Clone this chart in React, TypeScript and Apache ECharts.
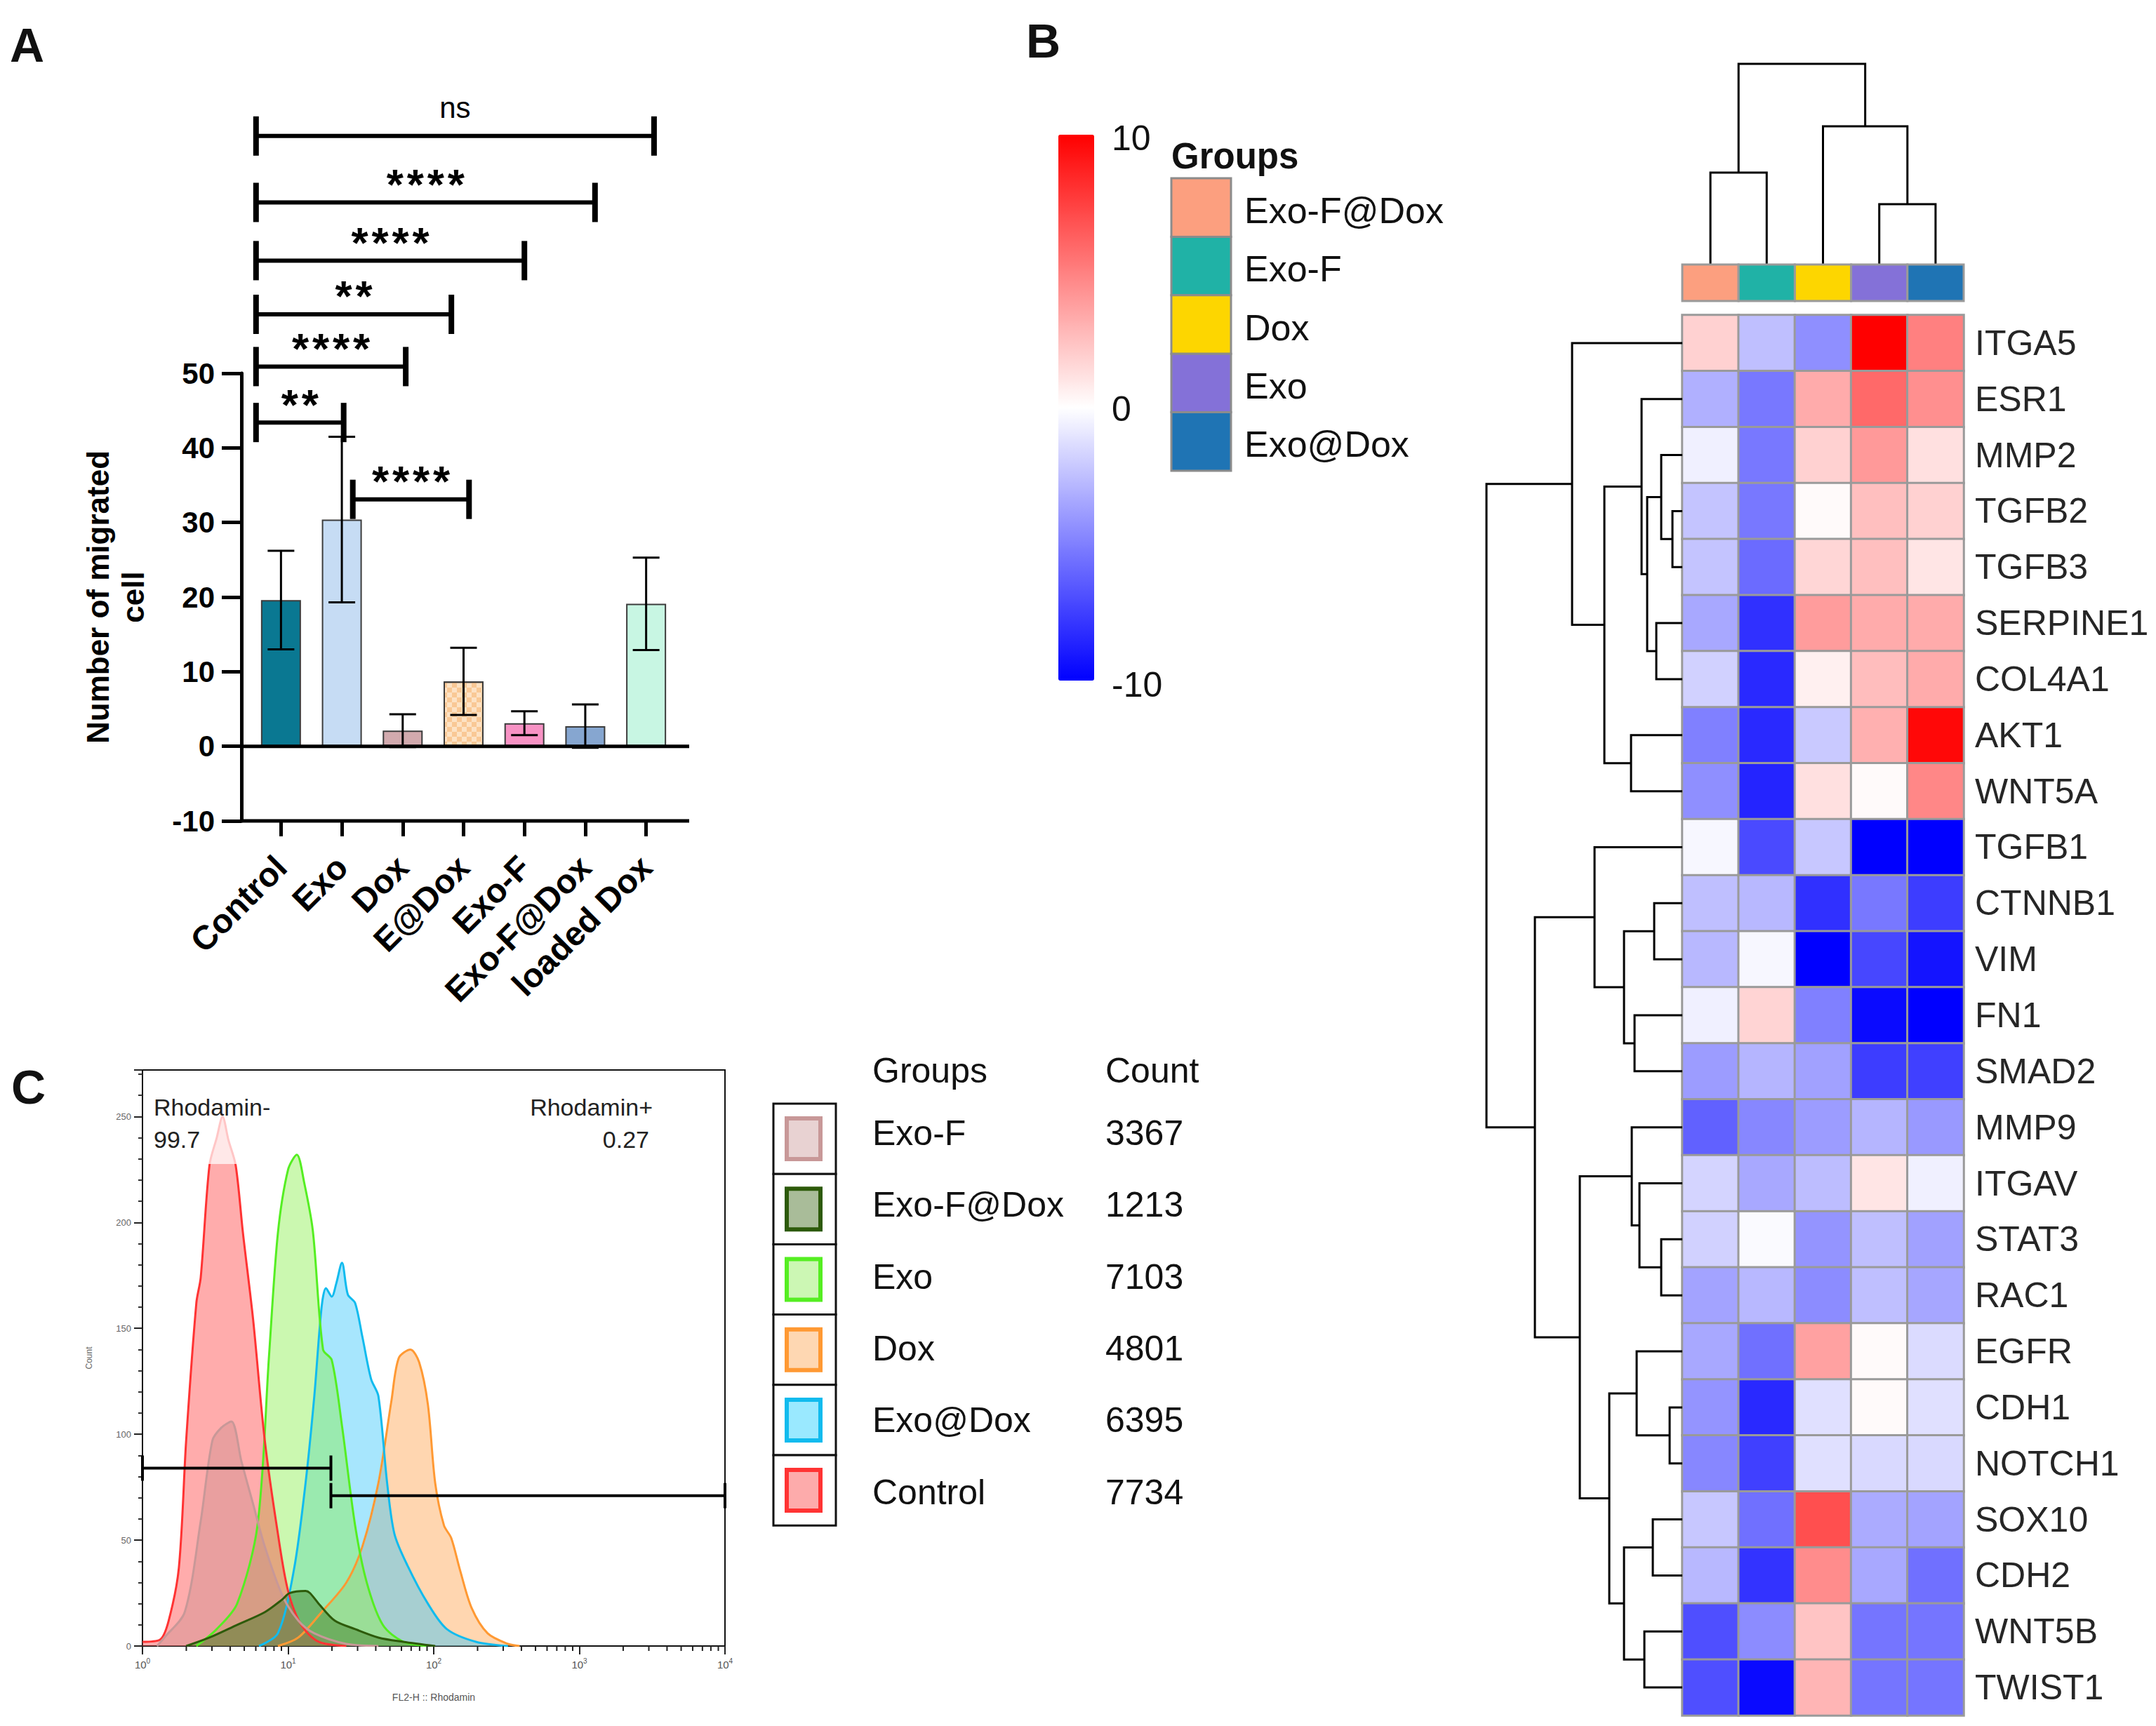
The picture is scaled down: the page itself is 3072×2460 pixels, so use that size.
import React, { useEffect, useRef } from "react";
import * as echarts from "echarts";

const FONT = '"Liberation Sans", Arial, sans-serif';
const NARROW = '"Liberation Sans Narrow", "Liberation Sans", Arial, sans-serif';

// ---------------- Panel A : migration bar chart ----------------
const barCategories = ["Control", "Exo", "Dox", "E@Dox", "Exo-F", "Exo-F@Dox", "loaded Dox"];
const barMeans = [19.6, 30.4, 2.1, 8.7, 3.1, 2.7, 19.1];
const barErrors = [6.6, 11.1, 2.2, 4.5, 1.6, 2.9, 6.2];
const barColors = ["#0a7892", "#c6dcf4", "#d2aaae", "#fde2c4", "#f792c4", "#86a6d0", "#c8f6e3"];
const barAxisMin = -10;
const barAxisMax = 50;
const barAxisStep = 10;
// significance brackets (in category units on a parallel value axis)
const sigStart = [-0.41, -0.41, -0.41, -0.41, -0.41, -0.41, 1.18];
const sigEnd = [6.13, 5.16, 4.0, 2.8, 2.05, 1.03, 3.09];
const sigLevel = [81.8, 72.9, 65.1, 57.9, 50.9, 43.4, 33.1];
const sigLabels = ["ns", "****", "****", "**", "****", "**", "****"];

// ---------------- Panel B : heatmap ----------------
const genes = ["ITGA5", "ESR1", "MMP2", "TGFB2", "TGFB3", "SERPINE1", "COL4A1", "AKT1", "WNT5A", "TGFB1", "CTNNB1", "VIM", "FN1", "SMAD2", "MMP9", "ITGAV", "STAT3", "RAC1", "EGFR", "CDH1", "NOTCH1", "SOX10", "CDH2", "WNT5B", "TWIST1"];
const groups = ["Exo-F@Dox", "Exo-F", "Dox", "Exo", "Exo@Dox"];
const groupColors = ["#fc9f7f", "#20b2a6", "#fdd600", "#8471d8", "#1f74b4"];
const exoFDoxExpr = [1.8, -3.1, -0.6, -2.3, -2.3, -3.4, -1.8, -5.0, -4.4, -0.3, -2.5, -2.8, -0.6, -3.9, -6.2, -1.7, -1.8, -3.6, -3.4, -4.2, -4.7, -2.2, -2.8, -6.9, -6.9];
const exoFExpr = [-2.5, -5.3, -5.3, -5.3, -5.8, -8.1, -8.4, -8.4, -8.6, -7.1, -2.8, -0.3, 1.7, -2.9, -4.7, -3.4, -0.2, -2.8, -5.6, -8.4, -7.5, -5.6, -8.0, -4.5, -9.6];
const doxExpr = [-4.4, 3.3, 1.8, 0.2, 1.6, 3.9, 0.6, -2.1, 1.2, -2.2, -8.1, -10, -5.0, -3.7, -3.9, -2.6, -4.2, -4.5, 3.7, -1.2, -1.2, 6.9, 4.5, 2.3, 2.9];
const exoExpr = [10, 5.9, 4.0, 2.5, 2.5, 3.3, 2.6, 3.1, 0.2, -10, -5.3, -7.2, -9.6, -7.6, -2.9, 1.0, -2.5, -2.5, 0.2, 0.2, -1.5, -3.3, -3.4, -5.4, -5.4];
const exoDoxExpr = [5.0, 4.4, 1.2, 1.8, 1.0, 3.3, 3.3, 9.7, 4.7, -10, -7.6, -9.2, -10, -7.5, -4.0, -0.6, -3.7, -3.5, -1.4, -1.2, -1.5, -3.6, -5.6, -5.4, -5.4];
const heatMin = -10;
const heatMax = 10;
const heatTickLabels = ["10", "0", "-10"];
// row clustering: [childA, childB, height]; leaves 0..24, merge k gets id 25+k
const rowMerges = [
  [3, 4, 14], [2, 25, 30], [5, 6, 37], [26, 27, 50], [1, 28, 58], [7, 8, 73], [29, 30, 111], [0, 31, 157],
  [10, 11, 40], [12, 13, 68], [33, 34, 83], [9, 35, 125],
  [16, 17, 30], [15, 37, 61], [14, 38, 72], [19, 20, 18], [18, 40, 65], [21, 22, 42], [23, 24, 54], [42, 43, 83],
  [41, 44, 104], [39, 45, 146], [36, 46, 210], [32, 47, 279],
];
const rowTreeHeight = 279;
// column clustering: leaves 0..4, merge k gets id 5+k
const colMerges = [[0, 1, 131], [3, 4, 86], [2, 6, 197], [5, 7, 286]];
const colTreeHeight = 286;

// ---------------- Panel C : flow cytometry histogram ----------------
const histControl = [[0, 2], [0.12, 3], [0.18, 12], [0.25, 37], [0.3, 97], [0.37, 162], [0.4, 174], [0.46, 227], [0.51, 240], [0.55, 250], [0.59, 239], [0.64, 227], [0.69, 195], [0.76, 154], [0.84, 97], [0.93, 53], [1.0, 26], [1.09, 10], [1.21, 2], [1.4, 0]];
const histExoF = [[0.1, 0], [0.15, 4], [0.29, 16], [0.4, 59], [0.48, 97], [0.54, 103], [0.61, 106], [0.68, 87], [0.76, 67], [0.84, 47], [0.96, 24], [1.07, 12], [1.18, 6], [1.4, 1], [1.62, 0]];
const histExo = [[0.37, 0], [0.51, 8], [0.65, 20], [0.79, 57], [0.87, 138], [0.93, 195], [1.0, 225], [1.06, 232], [1.11, 219], [1.17, 196], [1.24, 140], [1.3, 135], [1.37, 104], [1.46, 57], [1.54, 30], [1.65, 10], [1.79, 2], [1.96, 0]];
const histExoDox = [[0.8, 0], [0.93, 6], [1.04, 36], [1.12, 77], [1.18, 118], [1.23, 160], [1.26, 169], [1.3, 165], [1.33, 171], [1.37, 181], [1.41, 166], [1.46, 162], [1.51, 146], [1.57, 126], [1.62, 118], [1.68, 77], [1.73, 53], [1.82, 38], [1.96, 20], [2.09, 8], [2.29, 2], [2.51, 0]];
const histDox = [[0.93, 0], [1.07, 4], [1.23, 16], [1.4, 30], [1.51, 47], [1.62, 77], [1.71, 116], [1.76, 136], [1.84, 140], [1.9, 134], [1.96, 114], [2.01, 77], [2.07, 57], [2.12, 51], [2.18, 36], [2.26, 18], [2.37, 6], [2.51, 1], [2.59, 0]];
const histExoFDox = [[0.3, 0], [0.46, 4], [0.65, 10], [0.84, 16], [0.96, 22], [1.01, 25], [1.12, 26], [1.15, 25], [1.21, 20], [1.32, 12], [1.46, 8], [1.62, 4], [1.79, 2], [2.01, 0]];
const histLegendGroups = ["Exo-F", "Exo-F@Dox", "Exo", "Dox", "Exo@Dox", "Control"];
const histCounts = ["3367", "1213", "7103", "4801", "6395", "7734"];
const histLineColors = ["#c89898", "#2d5a0a", "#55ee22", "#ff9933", "#11bbee", "#ff3333"];
const histFillColors = ["#e8d2d2", "#a9bc99", "#ccf7b4", "#fed7b2", "#9ae9ff", "#fdabab"];
const histAreaColors = ["rgba(200,140,140,0.40)", "rgba(60,120,30,0.45)", "rgba(140,240,80,0.45)", "rgba(255,165,80,0.45)", "rgba(60,200,250,0.45)", "rgba(255,70,70,0.45)"];
const gateStart = [0, 1.294];
const gateEnd = [1.294, 4.0];
const gateLevel = [84, 71];
const gateNames = ["Rhodamin-", "Rhodamin+"];
const gatePercents = ["99.7", "0.27"];
const histXTicks = [0, 1, 2, 3, 4];
const histYMax = 272;
const logMinorMultipliers = [2, 3, 4, 5, 6, 7, 8, 9];

// ---------------- layout ----------------
const barGrid = { left: 357, top: 532, width: 607, height: 638 };
const heatGrid = { left: 2397, top: 449, width: 401, height: 1996 };
const colDenGrid = { left: 2397, top: 91, width: 401, height: 286 };
const rowDenGrid = { left: 2118, top: 449, width: 279, height: 1996 };
const annoGrid = { left: 2397, top: 377, width: 401, height: 52 };
const histGrid = { left: 203, top: 1525, width: 830, height: 821 };

function buildDendro(merges: number[][], nLeaves: number) {
  const pos: number[] = [];
  const hgt: number[] = [];
  for (let i = 0; i < nLeaves; i++) { pos[i] = i; hgt[i] = 0; }
  const out: number[][] = [];
  merges.forEach((m, k) => {
    const [a, b, h] = m;
    out.push([pos[a], hgt[a], pos[b], hgt[b], h]);
    pos[nLeaves + k] = (pos[a] + pos[b]) / 2;
    hgt[nLeaves + k] = h;
  });
  return out;
}

function buildOption() {
  const exprCols = [exoFDoxExpr, exoFExpr, doxExpr, exoExpr, exoDoxExpr];
  const heatData: number[][] = [];
  exprCols.forEach((col, c) => col.forEach((v, r) => heatData.push([c, r, v])));

  const rowDen = buildDendro(rowMerges, genes.length);
  const colDen = buildDendro(colMerges, groups.length);

  const histSets = [histExoF, histExoFDox, histExo, histDox, histExoDox, histControl];
  const drawOrder = [3, 4, 2, 5, 0, 1]; // Dox, Exo@Dox, Exo, Control, Exo-F, Exo-F@Dox

  const minorTicks: number[][] = [];
  for (let d = 0; d < histXTicks.length - 1; d++) {
    logMinorMultipliers.forEach((m) => minorTicks.push([d + Math.log10(m), 0]));
  }

  const yOf = (v: number) => barGrid.top + (barGrid.height * (barAxisMax - v)) / (barAxisMax - barAxisMin);
  const axisX = barGrid.left - 13;
  const lineRight = 982;

  const graphic: any[] = [];
  const txt = (x: number, y: number, text: string, o: any = {}) =>
    graphic.push({
      type: "text", x, y, z: o.z ?? 60,
      style: {
        text, fill: o.fill ?? "#111", fontSize: o.size ?? 50, fontWeight: o.weight ?? "normal",
        fontFamily: o.family ?? FONT, align: o.align ?? "left", verticalAlign: o.va ?? "middle",
      },
    });

  // panel letters
  txt(14, 64, "A", { size: 68, weight: "bold" });
  txt(1462, 58, "B", { size: 68, weight: "bold" });
  txt(16, 1549, "C", { size: 68, weight: "bold" });

  // panel A horizontal lines at 0 and -10
  [0, barAxisMin].forEach((v) =>
    graphic.push({ type: "line", z: 20, shape: { x1: axisX, y1: yOf(v), x2: lineRight, y2: yOf(v) }, style: { stroke: "#000", lineWidth: 5 } })
  );

  // panel B colour bar labels
  const cbTop = 192, cbBottom = 970;
  heatTickLabels.forEach((t, i) => {
    const y = cbTop + ((cbBottom - cbTop) * i) / (heatTickLabels.length - 1);
    txt(1584, y + (i === 0 ? 5 : i === 2 ? 6 : 2), t, { size: 50, family: NARROW });
  });
  // panel B group legend
  txt(1669, 222, "Groups", { size: 51, weight: "bold" });
  const swH = 83.4;
  groups.forEach((g, i) => {
    graphic.push({ type: "rect", z: 10, shape: { x: 1669, y: 254 + i * swH, width: 85, height: swH }, style: { fill: groupColors[i], stroke: "#8c8c8c", lineWidth: 3 } });
    txt(1773, 254 + i * swH + swH / 2 + 4, g, { size: 52 });
  });

  // panel C gate labels + label background
  graphic.push({ type: "rect", z: 50, shape: { x: 206, y: 1556, width: 184, height: 103 }, style: { fill: "rgba(255,255,255,0.72)" } });
  txt(219, 1578, gateNames[0], { size: 34, fill: "#222" });
  txt(219, 1624, gatePercents[0], { size: 34, fill: "#222" });
  txt(930, 1578, gateNames[1], { size: 34, fill: "#222", align: "right" });
  txt(925, 1624, gatePercents[1], { size: 34, fill: "#222", align: "right" });

  // panel C legend
  txt(1243, 1526, "Groups", { size: 50 });
  txt(1575, 1526, "Count", { size: 50 });
  const rowH = 100.2;
  histLegendGroups.forEach((g, i) => {
    const y0 = 1573 + i * rowH;
    const cy = y0 + rowH / 2;
    const ty = 1615 + i * 102.3;
    graphic.push({ type: "rect", z: 10, shape: { x: 1102, y: y0, width: 89, height: rowH }, style: { fill: "#fff", stroke: "#111", lineWidth: 3 } });
    graphic.push({ type: "rect", z: 11, shape: { x: 1121, y: cy - 29, width: 48, height: 58 }, style: { fill: histFillColors[i], stroke: histLineColors[i], lineWidth: 6 } });
    txt(1243, ty, g, { size: 50 });
    txt(1575, ty, histCounts[i], { size: 50 });
  });

  const series: any[] = [];

  // 0: bars
  series.push({
    type: "bar", xAxisIndex: 0, yAxisIndex: 0, barWidth: 57, z: 2,
    data: barMeans.map((v, i) => ({
      value: v,
      itemStyle: {
        color: barColors[i], borderColor: "#3c3c3c", borderWidth: 2,
        ...(barCategories[i] === "E@Dox"
          ? { decal: { symbol: "rect", symbolSize: 1, color: "rgba(246,178,110,0.55)", dashArrayX: [[7, 7], [0, 7, 7, 0]], dashArrayY: [7, 0] } }
          : {}),
      },
    })),
  });
  // 1: error bars
  series.push({
    type: "custom", xAxisIndex: 0, yAxisIndex: 0, z: 5,
    data: barMeans.map((m, i) => [i, m, barErrors[i]]),
    renderItem: (params: any, api: any) => {
      const i = api.value(0), m = api.value(1), e = api.value(2);
      const t = api.coord([i, m + e]);
      const b = api.coord([i, m - e]);
      const s = { stroke: "#000", lineWidth: 3 };
      return {
        type: "group",
        children: [
          { type: "line", shape: { x1: t[0], y1: t[1], x2: b[0], y2: b[1] }, style: s },
          { type: "line", shape: { x1: t[0] - 19, y1: t[1], x2: t[0] + 19, y2: t[1] }, style: s },
          { type: "line", shape: { x1: b[0] - 19, y1: b[1], x2: b[0] + 19, y2: b[1] }, style: s },
        ],
      };
    },
  });
  // 2: significance brackets
  series.push({
    type: "custom", xAxisIndex: 1, yAxisIndex: 0, z: 6, clip: false,
    data: sigStart.map((s, i) => [s, sigEnd[i], sigLevel[i]]),
    renderItem: (params: any, api: any) => {
      const a = api.coord([api.value(0), api.value(2)]);
      const b = api.coord([api.value(1), api.value(2)]);
      const lab = sigLabels[params.dataIndex];
      const ns = lab === "ns";
      const st = { stroke: "#000", lineWidth: 6 };
      const cap = { stroke: "#000", lineWidth: 8 };
      const children: any[] = [
        { type: "line", shape: { x1: a[0], y1: a[1], x2: b[0], y2: b[1] }, style: st },
        { type: "line", shape: { x1: a[0], y1: a[1] - 28, x2: a[0], y2: a[1] + 28 }, style: cap },
        { type: "line", shape: { x1: b[0], y1: b[1] - 28, x2: b[0], y2: b[1] + 28 }, style: cap },
      ];
      const mid = (a[0] + b[0]) / 2;
      if (ns) {
        children.push({
          type: "text", x: mid, y: a[1] - 40,
          style: { text: lab, fill: "#000", fontSize: 42, fontFamily: FONT, align: "center", verticalAlign: "middle" },
        });
      } else {
        const n = lab.length;
        const gap = 29;
        for (let k = 0; k < n; k++) {
          children.push({
            type: "text", x: mid + (k - (n - 1) / 2) * gap, y: a[1] - 26,
            style: { text: "*", fill: "#000", fontSize: 62, fontWeight: "bold", fontFamily: FONT, align: "center", verticalAlign: "middle" },
          });
        }
      }
      return { type: "group", children };
    },
  });
  // 3: heatmap
  series.push({
    type: "heatmap", xAxisIndex: 2, yAxisIndex: 1, data: heatData,
    itemStyle: { borderColor: "#9a9a9a", borderWidth: 3 },
    emphasis: { disabled: true },
  });
  // 4: column dendrogram
  series.push({
    type: "custom", xAxisIndex: 3, yAxisIndex: 2, clip: false, data: colDen,
    renderItem: (params: any, api: any) => {
      const pa = api.value(0), ha = api.value(1), pb = api.value(2), hb = api.value(3), h = api.value(4);
      return {
        type: "polyline",
        shape: { points: [api.coord([pa, ha]), api.coord([pa, h]), api.coord([pb, h]), api.coord([pb, hb])] },
        style: { stroke: "#000", lineWidth: 3, fill: "none" },
      };
    },
  });
  // 5: row dendrogram
  series.push({
    type: "custom", xAxisIndex: 4, yAxisIndex: 3, clip: false, data: rowDen,
    renderItem: (params: any, api: any) => {
      const pa = api.value(0), ha = api.value(1), pb = api.value(2), hb = api.value(3), h = api.value(4);
      return {
        type: "polyline",
        shape: { points: [api.coord([ha, pa]), api.coord([h, pa]), api.coord([h, pb]), api.coord([hb, pb])] },
        style: { stroke: "#000", lineWidth: 3, fill: "none" },
      };
    },
  });
  // 6: group annotation bar
  series.push({
    type: "custom", xAxisIndex: 5, yAxisIndex: 4, data: groups.map((g, i) => [i, 0.5]),
    renderItem: (params: any, api: any) => {
      const i = api.value(0);
      const a = api.coord([i - 0.5, 1]);
      const b = api.coord([i + 0.5, 0]);
      return { type: "rect", shape: { x: a[0], y: a[1], width: b[0] - a[0], height: b[1] - a[1] }, style: { fill: groupColors[i], stroke: "#9a9a9a", lineWidth: 3 } };
    },
  });
  // 7..12: histograms
  drawOrder.forEach((k) => {
    series.push({
      type: "line", name: histLegendGroups[k], xAxisIndex: 6, yAxisIndex: 5, data: histSets[k],
      showSymbol: false, symbol: "none", smooth: 0.3, z: 3,
      lineStyle: { color: histLineColors[k], width: 3 },
      areaStyle: { color: histAreaColors[k], opacity: 1 },
    });
  });
  // gates
  series.push({
    type: "custom", xAxisIndex: 6, yAxisIndex: 5, z: 8, clip: false,
    data: gateStart.map((s, i) => [s, gateEnd[i], gateLevel[i]]),
    renderItem: (params: any, api: any) => {
      const a = api.coord([api.value(0), api.value(2)]);
      const b = api.coord([api.value(1), api.value(2)]);
      const s = { stroke: "#000", lineWidth: 4 };
      return {
        type: "group",
        children: [
          { type: "line", shape: { x1: a[0], y1: a[1], x2: b[0], y2: b[1] }, style: s },
          { type: "line", shape: { x1: a[0], y1: a[1] - 18, x2: a[0], y2: a[1] + 18 }, style: s },
          { type: "line", shape: { x1: b[0], y1: b[1] - 18, x2: b[0], y2: b[1] + 18 }, style: s },
        ],
      };
    },
  });
  // log minor ticks
  series.push({
    type: "custom", xAxisIndex: 6, yAxisIndex: 5, z: 8, clip: false, data: minorTicks,
    renderItem: (params: any, api: any) => {
      const p = api.coord([api.value(0), 0]);
      return { type: "line", shape: { x1: p[0], y1: p[1], x2: p[0], y2: p[1] + 7 }, style: { stroke: "#222", lineWidth: 2 } };
    },
  });

  const hidden = { show: false };
  return {
    animation: false,
    backgroundColor: "#fff",
    textStyle: { fontFamily: FONT },
    grid: [
      { ...barGrid, outerBoundsMode: "none" },
      { ...heatGrid, outerBoundsMode: "none" },
      { ...colDenGrid, outerBoundsMode: "none" },
      { ...rowDenGrid, outerBoundsMode: "none" },
      { ...annoGrid, outerBoundsMode: "none" },
      { ...histGrid, outerBoundsMode: "none", show: true, borderColor: "#111", borderWidth: 2 },
    ],
    xAxis: [
      {
        type: "category", gridIndex: 0, data: barCategories,
        axisLine: { show: false, onZero: false },
        axisTick: { show: true, alignWithLabel: true, length: 22, lineStyle: { color: "#000", width: 5 } },
        axisLabel: { rotate: 45, interval: 0, fontSize: 48, fontWeight: "bold", color: "#000", fontFamily: FONT, margin: 58 },
      },
      { type: "value", gridIndex: 0, min: -0.5, max: barCategories.length - 0.5, ...hidden },
      { type: "category", gridIndex: 1, data: groups, ...hidden },
      { type: "value", gridIndex: 2, min: -0.5, max: groups.length - 0.5, ...hidden },
      { type: "value", gridIndex: 3, min: 0, max: rowTreeHeight, inverse: true, ...hidden },
      { type: "value", gridIndex: 4, min: -0.5, max: groups.length - 0.5, ...hidden },
      {
        type: "value", gridIndex: 5, min: histXTicks[0], max: histXTicks[histXTicks.length - 1], interval: 1,
        splitLine: { show: false },
        axisLine: { onZero: false, lineStyle: { color: "#111", width: 2 } },
        axisTick: { length: 12, lineStyle: { color: "#222", width: 2 } },
        axisLabel: {
          margin: 16, color: "#555",
          formatter: (v: number) => "{b|10}{e|" + v + "}",
          rich: { b: { fontSize: 15, color: "#555", fontFamily: FONT }, e: { fontSize: 10, color: "#555", padding: [0, 0, 10, 0], fontFamily: FONT } },
        },
        name: "FL2-H :: Rhodamin", nameLocation: "middle", nameGap: 66,
        nameTextStyle: { fontSize: 14, color: "#555", fontFamily: FONT },
      },
    ],
    yAxis: [
      {
        type: "value", gridIndex: 0, min: barAxisMin, max: barAxisMax, interval: barAxisStep, offset: 13,
        splitLine: { show: false },
        axisLine: { show: true, onZero: false, lineStyle: { color: "#000", width: 5 } },
        axisTick: { show: true, length: 28, lineStyle: { color: "#000", width: 5 } },
        axisLabel: { fontSize: 42, fontWeight: "bold", color: "#000", margin: 38, fontFamily: FONT },
        name: "Number of migrated\ncell", nameLocation: "middle", nameRotate: 90, nameGap: 130,
        nameTextStyle: { fontSize: 44, fontWeight: "bold", color: "#000", lineHeight: 50, fontFamily: FONT },
      },
      {
        type: "category", gridIndex: 1, data: genes, inverse: true, position: "right",
        axisLine: { show: false }, axisTick: { show: false },
        axisLabel: { fontSize: 50, color: "#262626", margin: 16, fontFamily: FONT },
      },
      { type: "value", gridIndex: 2, min: 0, max: colTreeHeight, ...hidden },
      { type: "value", gridIndex: 3, min: -0.5, max: genes.length - 0.5, inverse: true, ...hidden },
      { type: "value", gridIndex: 4, min: 0, max: 1, ...hidden },
      {
        type: "value", gridIndex: 5, min: 0, max: histYMax, interval: 50,
        splitLine: { show: false },
        axisLine: { onZero: false, lineStyle: { color: "#111", width: 2 } },
        axisTick: { length: 12, lineStyle: { color: "#222", width: 2 } },
        minorTick: { show: true, splitNumber: 5, length: 6, lineStyle: { color: "#333", width: 2 } },
        axisLabel: { fontSize: 13, color: "#666", margin: 16, showMaxLabel: false, fontFamily: FONT },
        name: "Count", nameLocation: "middle", nameRotate: 90, nameGap: 70,
        nameTextStyle: { fontSize: 12, color: "#666", fontFamily: FONT },
      },
    ],
    visualMap: {
      type: "continuous", min: heatMin, max: heatMax, seriesIndex: 3, calculable: false, hoverLink: false,
      orient: "vertical", left: 1508, top: cbTop, itemWidth: 51, itemHeight: cbBottom - cbTop, padding: 0,
      inRange: { color: ["#0000ff", "#ffffff", "#ff0000"] },
    },
    graphic: { elements: graphic },
    series,
  };
}

export default function App() {
  const ref = useRef<HTMLDivElement>(null);
  useEffect(() => {
    if (!ref.current) return;
    const chart = echarts.init(ref.current, null, { renderer: "svg" });
    chart.setOption(buildOption() as any);
    return () => chart.dispose();
  }, []);
  return <div ref={ref} style={{ position: "fixed", left: 0, top: 0, width: 3072, height: 2460, background: "#fff" }} />;
}
